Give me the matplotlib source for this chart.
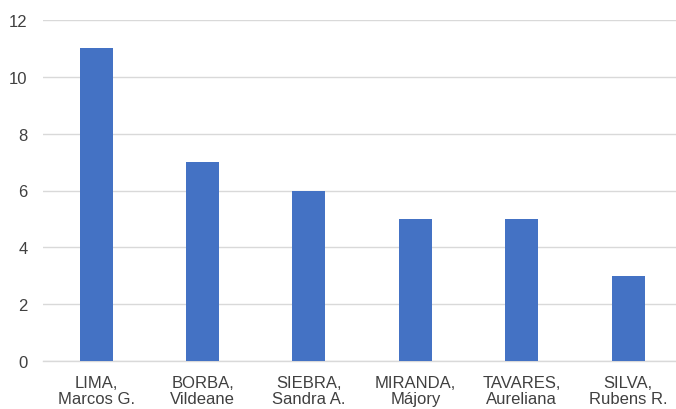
import matplotlib
matplotlib.use("Agg")
import matplotlib.pyplot as plt

categories = ["LIMA,\nMarcos G.", "BORBA,\nVildeane", "SIEBRA,\nSandra A.",
              "MIRANDA,\nMájory", "TAVARES,\nAureliana", "SILVA,\nRubens R."]
values = [11, 7, 6, 5, 5, 3]
yticks = [0, 2, 4, 6, 8, 10, 12]

plt.rcParams['font.family'] = ['Liberation Sans', 'DejaVu Sans']

fig = plt.figure(figsize=(6.76, 4.10), dpi=100)
ax = fig.add_axes([43/676, 48/410, (676-43)/676, 341/410])

x = list(range(len(categories)))
ax.bar(x, values, width=0.31, color="#4472C4", zorder=3)

ax.set_ylim(0, 12)
ax.set_xlim(-0.5, 5.45)
ax.set_yticks(yticks)
ax.set_xticks(x)
ax.set_xticklabels(categories, fontsize=12, color="#404040", linespacing=1.1)
ax.tick_params(axis='y', labelsize=12, labelcolor="#404040", length=0, pad=11)
ax.tick_params(axis='x', length=0, pad=10)
ax.yaxis.grid(True, color="#D9D9D9", linewidth=1, zorder=0)
for s in ["top", "right", "left"]:
    ax.spines[s].set_visible(False)
ax.spines["bottom"].set_color("#D9D9D9")
ax.spines["bottom"].set_linewidth(1)

fig.savefig("out.png", dpi=100)
